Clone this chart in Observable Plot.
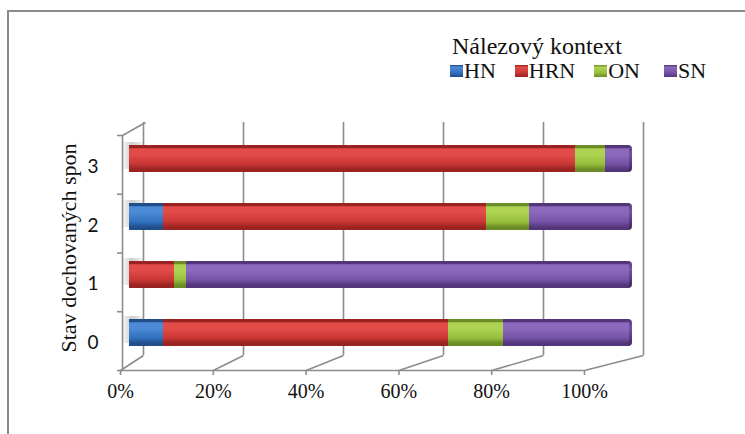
<!DOCTYPE html>
<html><head><meta charset="utf-8">
<script src="https://cdn.jsdelivr.net/npm/d3@7"></script>
<script src="https://cdn.jsdelivr.net/npm/@observablehq/plot@0.6"></script>
<style>
html,body{margin:0;padding:0;background:#fff;overflow:hidden;}
#wrap{position:relative;width:745px;height:434px;overflow:hidden;background:#fff;}
#border{position:absolute;left:7px;top:10px;width:800px;height:500px;border:2px solid #8a8a8a;box-sizing:border-box;}
.layer{position:absolute;left:0;top:0;}
#legend{position:absolute;left:450px;top:33px;font-family:"Liberation Serif",serif;color:#111;}
#legend .title{font-size:24px;line-height:26px;margin-left:2px;}
#legend .items{display:flex;align-items:center;font-size:22px;line-height:24px;}
#legend .item{display:flex;align-items:center;margin-right:19px;}
#legend .item:nth-child(3){margin-right:24px;}
#legend .sw{display:inline-block;width:13px;height:12px;margin-right:1px;}
</style>
</head><body>
<div id="wrap"><div id="border"></div></div>
<script>
// ---- data ----
const categories = ["0", "1", "2", "3"];
const seriesNames = ["HN", "HRN", "ON", "SN"];
const HN  = [6.8, 0, 6.8, 0];
const HRN = [57.0, 9.0, 64.6, 89.2];
const ON  = [11.0, 2.4, 8.6, 6.0];
const SN  = [25.2, 88.6, 20.0, 4.8];
const xTicks = [0, 20, 40, 60, 80, 100];
const yBounds = [0, 1, 2, 3, 4];
const legendTitle = "Nálezový kontext";
const yLabel = "Stav dochovaných spon";

// ---- styles ----
const palette = {
  HN:  {base: "#3170bd", light: "#4d8ad6", dark: "#1f4e8a"},
  HRN: {base: "#c93735", light: "#e24b48", dark: "#992321"},
  ON:  {base: "#97be3d", light: "#aed353", dark: "#6c8c27"},
  SN:  {base: "#7652a6", light: "#8c69bd", dark: "#523679"}
};
const seriesValues = {HN, HRN, ON, SN};
const data = seriesNames.flatMap(s => categories.map((c, i) => ({cat: c, series: s, value: seriesValues[s][i]})));
const lastSeries = seriesNames[seriesNames.length - 1];

const W = 745, H = 434;
const wrap = document.getElementById("wrap");

const plotA = Plot.plot({
  width: W, height: H,
  marginLeft: 143, marginRight: 102, marginTop: 122, marginBottom: 79,
  style: {background: "transparent"},
  x: {domain: [0, 100], axis: null},
  y: {domain: [...categories].reverse(), range: [129, 362], paddingInner: 0.535, paddingOuter: 0.2675, axis: null},
  color: {domain: seriesNames, range: seriesNames.map(s => `url(#g-${s})`)},
  marks: [
    Plot.barX(categories, {y: d => d, x1: -4.4, x2: 0, fill: "url(#g-shadow)", dy: -3}),
    Plot.ruleX(xTicks, {stroke: "#8c8c8c", strokeWidth: 1.6}),
    // rounded right-end cap of each bar
    Plot.barX(categories, {y: d => d, x1: 97.6, x2: 100, dx: -11, rx: 4, fill: "url(#g-cap)"}),
    Plot.barX(data, Plot.stackX({x: "value", y: "cat", fill: "series", order: seriesNames, dx: -14}))
  ]
});
plotA.classList.add("layer");

// gradients for 3D-looking bars
const ns = "http://www.w3.org/2000/svg";
const defs = document.createElementNS(ns, "defs");
function grad(id, stops, horiz) {
  const g = document.createElementNS(ns, "linearGradient");
  g.setAttribute("id", id);
  g.setAttribute("x1", 0); g.setAttribute("y1", 0);
  g.setAttribute("x2", horiz ? 1 : 0); g.setAttribute("y2", horiz ? 0 : 1);
  for (const [o, c, op] of stops) {
    const st = document.createElementNS(ns, "stop");
    st.setAttribute("offset", o); st.setAttribute("stop-color", c);
    if (op != null) st.setAttribute("stop-opacity", op);
    g.appendChild(st);
  }
  defs.appendChild(g);
}
for (const s of seriesNames) {
  const p = palette[s];
  grad(`g-${s}`, [["0", p.dark], ["0.1", p.dark], ["0.14", p.light], ["0.35", p.light], ["0.7", p.base], ["0.9", p.dark], ["1", p.dark]]);
}
const pc = palette[lastSeries];
grad("g-cap", [["0", pc.dark], ["0.3", pc.base], ["0.75", pc.dark], ["1", "#3a2556"]]);
grad("g-shadow", [["0", "#909090", 0], ["0.5", "#909090", 0.45], ["1", "#909090", 0.1]], true);
plotA.insertBefore(defs, plotA.firstChild);
wrap.appendChild(plotA);

const xA = plotA.scale("x");
const xB = Plot.scale({x: {domain: [0, 100], range: [120, 584]}});
const yB = Plot.scale({y: {domain: [0, 4], range: [370, 135]}});

const plotB = Plot.plot({
  width: W, height: H,
  marginLeft: 120, marginRight: 161, marginTop: 135, marginBottom: 64,
  style: {background: "transparent", color: "#111", fontFamily: "Liberation Serif"},
  x: {domain: [0, 100]},
  y: {domain: [0, 4]},
  marks: [
    Plot.link(xTicks, {x1: d => d, y1: 0, x2: d => xB.invert(xA.apply(d)), y2: yB.invert(355), stroke: "#8c8c8c", strokeWidth: 1.6}),
    Plot.link([0], {x1: 0, y1: 4, x2: xB.invert(xA.apply(0)), y2: yB.invert(122), dx: 2, stroke: "#8c8c8c", strokeWidth: 1.6}),
    Plot.ruleY([0], {stroke: "#8c8c8c", strokeWidth: 1.6}),
    Plot.ruleX([0], {dx: 2, stroke: "#8c8c8c", strokeWidth: 1.6}),
    Plot.axisY({ticks: yBounds, tickSize: 5, tickFormat: () => "", dx: 2, stroke: "#8c8c8c", strokeWidth: 1.6, label: null}),
    Plot.axisY({ticks: [0.5, 1.5, 2.5, 3.5], tickSize: 0, tickPadding: 22, tickFormat: d => categories[Math.floor(d)], fontFamily: "Lato", fontSize: 19, dy: 2, label: null}),
    Plot.axisX({ticks: xTicks, tickSize: 5, tickPadding: 8, tickFormat: d => d + "%", fontSize: 20, stroke: "#8c8c8c", strokeWidth: 1.6, label: null}),
    Plot.text([yLabel], {frameAnchor: "left", textAnchor: "middle", rotate: -90, dx: -52, dy: -5, fontSize: 22, fontFamily: "Liberation Serif"})
  ]
});
plotB.classList.add("layer");
wrap.appendChild(plotB);

// legend
const legend = document.createElement("div");
legend.id = "legend";
const t = document.createElement("div");
t.className = "title"; t.textContent = legendTitle;
legend.appendChild(t);
const items = document.createElement("div");
items.className = "items";
for (const s of seriesNames) {
  const p = palette[s];
  const it = document.createElement("div"); it.className = "item";
  const sw = document.createElement("span"); sw.className = "sw";
  sw.style.background = `linear-gradient(to bottom, ${p.dark} 0%, ${p.light} 20%, ${p.base} 65%, ${p.dark} 100%)`;
  const tx = document.createElement("span"); tx.textContent = s;
  it.appendChild(sw); it.appendChild(tx);
  items.appendChild(it);
}
legend.appendChild(items);
wrap.appendChild(legend);
</script>
</body></html>
